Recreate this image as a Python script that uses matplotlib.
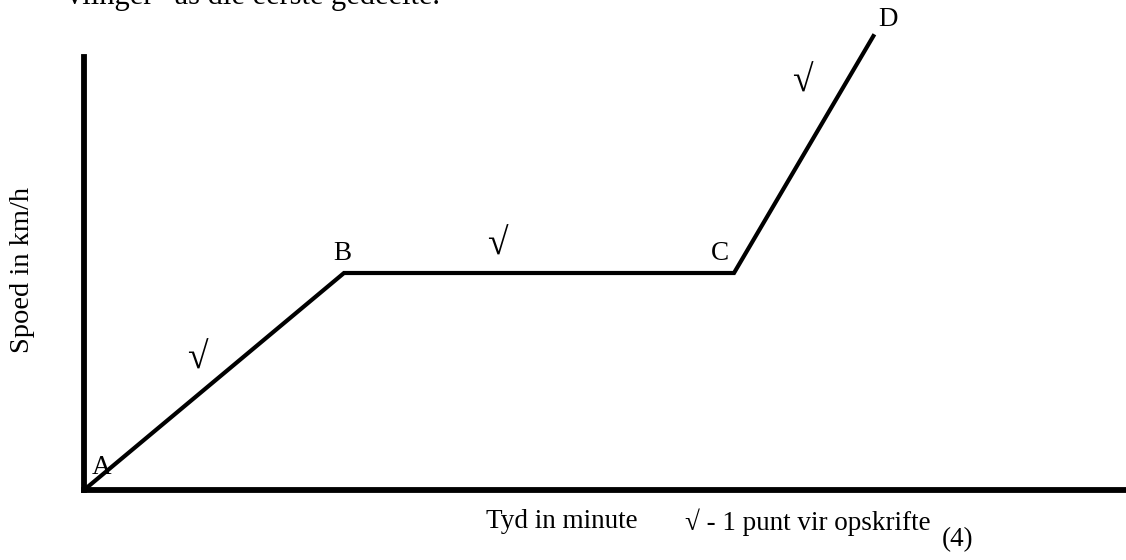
import matplotlib
matplotlib.use("Agg")
import matplotlib.pyplot as plt

# Data (time in minutes, speed in km/h; schematic units)
time = [0, 10, 25, 30.4]
speed = [0, 10, 10, 21]
point_labels = ["A", "B", "C", "D"]
# label offsets in pixels relative to each point
label_offsets = [(18, 23), (-2, 19), (-14, 19), (14, 15)]
check = "\u221a"
title_text = "vlinger\u201d as die eerste gedeelte."
xlabel = "Tyd in minute"
ylabel = "Spoed in km/h"
note = "\u221a - 1 punt vir opskrifte"
marks = "(4)"

FONT = ["Liberation Serif", "DejaVu Serif"]
plt.rcParams["font.family"] = FONT

W, H = 1126, 560
fig = plt.figure(figsize=(W / 100, H / 100), dpi=100)
fig.patch.set_facecolor("white")

left_px, bottom_px, top_px = 84, 490, 10
ax = fig.add_axes([left_px / W, (H - bottom_px) / H,
                   (W - left_px) / W, (bottom_px - top_px) / H])
ax.set_xlim(0, (W - left_px) / 26.0)
ax.set_ylim(0, (bottom_px - top_px) / 21.7)
ax.patch.set_alpha(0)

for s in ["top", "right"]:
    ax.spines[s].set_visible(False)
for s in ["left", "bottom"]:
    ax.spines[s].set_linewidth(4.2)
    ax.spines[s].set_color("black")
    ax.spines[s].set_capstyle("projecting")
ax.spines["left"].set_bounds(0, 19.95)
ax.set_xticks([])
ax.set_yticks([])

ax.plot(time, speed, color="black", lw=3.0, solid_joinstyle="miter",
        solid_capstyle="butt", clip_on=False)

fs = 19.5
px2pt = 0.72
for t, v, lab, (dx, dy) in zip(time, speed, point_labels, label_offsets):
    ax.annotate(lab, (t, v), xytext=(dx * px2pt, dy * px2pt),
                textcoords="offset points", ha="center", va="center",
                fontsize=fs, family=FONT, annotation_clip=False)

# check marks on the three labelled segments
check_offsets = [(-17, 22), (-42, 28), (-2, 71)]
for i, (dx, dy) in enumerate(check_offsets):
    mx = (time[i] + time[i + 1]) / 2
    my = (speed[i] + speed[i + 1]) / 2
    ax.annotate(check, (mx, my), xytext=(dx * px2pt, dy * px2pt),
                textcoords="offset points", ha="center", va="center",
                fontsize=27, family=FONT, annotation_clip=False)

fig.text(67 / W, 1 - 4 / H, title_text, ha="left", va="baseline",
         fontsize=22, family=FONT)
fig.text(23 / W, 1 - 270 / H, ylabel, rotation=90, ha="center", va="center",
         fontsize=20.5, family=FONT)
fig.text(562 / W, 1 - 521 / H, xlabel, ha="center", va="center",
         fontsize=fs, family=FONT)
fig.text(808 / W, 1 - 522 / H, note, ha="center", va="center",
         fontsize=fs, family=FONT)
fig.text(958 / W, 1 - 540 / H, marks, ha="center", va="center",
         fontsize=fs, family=FONT)

fig.savefig("out.png", dpi=100, facecolor="white")
